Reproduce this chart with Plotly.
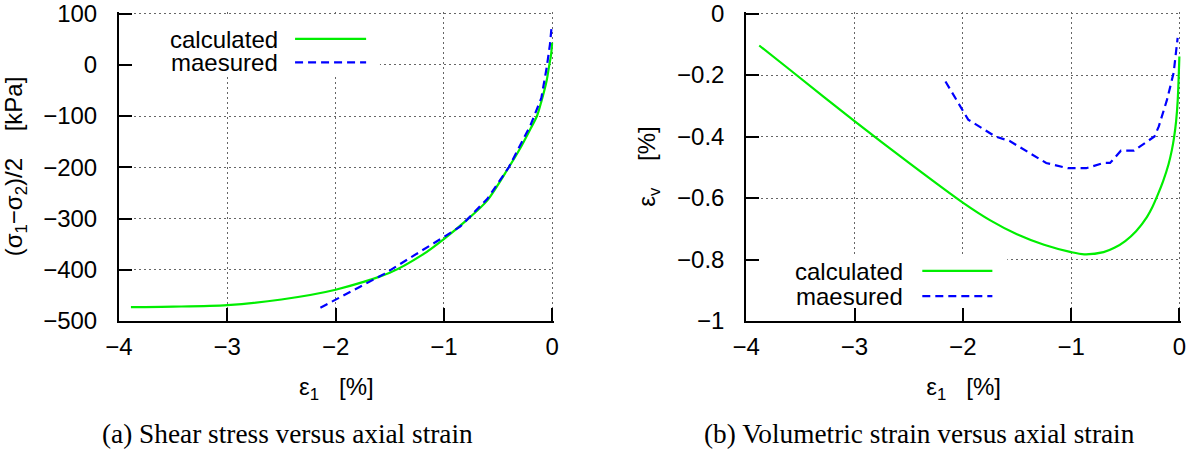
import plotly.graph_objects as go

W, H = 1195, 455

# ---------------- data ----------------
# (a) shear stress vs axial strain
calc_a_x = [-3.89, -3.5, -3.0, -2.5, -2.0, -1.5, -1.2, -1.0, -0.8, -0.6, -0.4, -0.3,
            -0.2, -0.14, -0.1, -0.05, -0.03, -0.01, 0.0]
calc_a_y = [-473, -472, -469, -458, -439, -406, -371, -340, -305, -265, -200, -165,
            -125, -100, -72, -30, -5, 20, 43]
meas_a_x = [-2.14, -1.55, -1.0, -0.85, -0.6, -0.4, -0.2, -0.1, -0.05, -0.02, -0.006]
meas_a_y = [-474, -408, -336, -316, -262, -200, -118, -65, -5, 40, 72]

# (b) volumetric strain vs axial strain
calc_b_x = [-3.88, -3.6, -3.0, -2.5, -2.0, -1.75, -1.5, -1.25, -1.0, -0.88, -0.7, -0.6,
            -0.5, -0.4, -0.3, -0.25, -0.2, -0.15, -0.1, -0.07, -0.05, -0.03, -0.015, 0.0]
calc_b_y = [-0.104, -0.182, -0.350, -0.485, -0.615, -0.672, -0.718, -0.752, -0.776,
            -0.783, -0.776, -0.762, -0.740, -0.708, -0.662, -0.630, -0.590, -0.545,
            -0.490, -0.445, -0.405, -0.350, -0.280, -0.140]
meas_b_x = [-2.16, -1.95, -1.70, -1.57, -1.23, -1.03, -0.86, -0.70, -0.64, -0.54,
            -0.42, -0.23, -0.19, -0.114, -0.053, -0.016]
meas_b_y = [-0.221, -0.345, -0.400, -0.414, -0.486, -0.503, -0.503, -0.486, -0.486,
            -0.446, -0.446, -0.400, -0.367, -0.280, -0.193, -0.079]

x_ticks = [-4, -3, -2, -1, 0]
ya_ticks = [100, 0, -100, -200, -300, -400, -500]
yb_ticks = [0, -0.2, -0.4, -0.6, -0.8, -1]
legend_names = ["calculated", "maesured"]
captions = ["(a) Shear stress versus axial strain",
            "(b) Volumetric strain versus axial strain"]

GREEN = "#00ee00"
BLUE = "#0000ff"
SANS = "Liberation Sans, Arial, sans-serif"
SERIF = "Liberation Serif, Times New Roman, serif"
FS = 24

# pixel frame of the plotting area (left panel left edge .. right panel right edge)
ML, MR, MT, MB = 119, 14.4, 12.46, 134
PW = W - ML - MR
PH = H - MT - MB


def dom_x(p):
    return (p - ML) / PW


fig = go.Figure()
fig.add_trace(go.Scatter(x=calc_a_x, y=calc_a_y, mode="lines", name=legend_names[0],
                         line=dict(color=GREEN, width=2.2, shape="spline", smoothing=0.8),
                         xaxis="x", yaxis="y", showlegend=False))
fig.add_trace(go.Scatter(x=meas_a_x, y=meas_a_y, mode="lines", name=legend_names[1],
                         line=dict(color=BLUE, width=2.2, dash="8px,5px"),
                         xaxis="x", yaxis="y", showlegend=False))
fig.add_trace(go.Scatter(x=calc_b_x, y=calc_b_y, mode="lines", name=legend_names[0],
                         line=dict(color=GREEN, width=2.2, shape="spline", smoothing=0.8),
                         xaxis="x2", yaxis="y2", showlegend=False))
fig.add_trace(go.Scatter(x=meas_b_x, y=meas_b_y, mode="lines", name=legend_names[1],
                         line=dict(color=BLUE, width=2.2, dash="8px,5px"),
                         xaxis="x2", yaxis="y2", showlegend=False))

tfont = dict(family=SANS, size=FS, color="black")
axis_common = dict(
    showline=True, linecolor="black", linewidth=2, mirror=False,
    ticks="inside", ticklen=13, tickwidth=2, tickcolor="black",
    showgrid=True, gridcolor="#666666", gridwidth=1, griddash="2px,3px",
    zeroline=False, tickfont=tfont, automargin=False, ticklabeloverflow="allow",
)

fig.update_layout(
    xaxis=dict(domain=[0, dom_x(553.6)], range=[-4, 0.015], tickvals=x_ticks,
               anchor="y", ticklabelstandoff=3,
               title=dict(text="ε<sub>1</sub>\u00a0\u00a0 [%]", standoff=19, font=tfont),
               **axis_common),
    yaxis=dict(domain=[0, 1], range=[-500, 103], tickvals=ya_ticks, anchor="x",
               ticklabelstandoff=15,
               title=dict(text="(σ<sub>1</sub>−σ<sub>2</sub>)/2\u00a0\u00a0\u00a0 [kPa]",
                          standoff=17, font=tfont),
               **axis_common),
    xaxis2=dict(domain=[dom_x(746), 1], range=[-4, 0.015], tickvals=x_ticks,
                anchor="y2", ticklabelstandoff=3,
                title=dict(text="ε<sub>1</sub>\u00a0\u00a0 [%]", standoff=19, font=tfont),
                **axis_common),
    yaxis2=dict(domain=[0, 1], range=[-1, 0.005], tickvals=yb_ticks, anchor="x2",
                ticklabelstandoff=15,
                title=dict(text="ε<sub>v</sub>\u00a0\u00a0\u00a0 [%]", standoff=15,
                           font=tfont),
                **axis_common),
)

# white boxes behind the key (hide grid like gnuplot's key box)
fig.add_shape(type="rect", xref="x", yref="y", x0=-4, x1=-1.59, y0=-21, y1=94,
              fillcolor="white", line=dict(width=0), layer="between")
fig.add_shape(type="rect", xref="x2", yref="y2", x0=-4, x1=-1.59, y0=-0.993, y1=-0.788,
              fillcolor="white", line=dict(width=0), layer="between")

# key entries: text on the left, line sample on the right (gnuplot style)
keys = [
    dict(xr="x", yr="y", tx=-2.513, ys=[50.6, 4.8], lx=[-2.374, -1.718]),
    dict(xr="x2", yr="y2", tx=-2.531, ys=[-0.837, -0.919], lx=[-2.374, -1.727]),
]
for k in keys:
    for i, name in enumerate(legend_names):
        fig.add_annotation(x=k["tx"], y=k["ys"][i], xref=k["xr"], yref=k["yr"],
                           text=name, showarrow=False, xanchor="right", yanchor="middle",
                           height=22, valign="middle", font=tfont)
        fig.add_shape(type="line", xref=k["xr"], yref=k["yr"],
                      x0=k["lx"][0], x1=k["lx"][1], y0=k["ys"][i], y1=k["ys"][i],
                      line=dict(color=GREEN if i == 0 else BLUE, width=2.2,
                                dash="solid" if i == 0 else "8px,5px"))

# captions (positions in paper coordinates of the plotting frame)
for cx, cap in zip([287, 919], captions):
    fig.add_annotation(x=dom_x(cx), y=(H - MB - 434) / PH, xref="paper", yref="paper",
                       text=cap, showarrow=False, xanchor="center", yanchor="middle",
                       font=dict(family=SERIF, size=27.3, color="black"))

fig.update_layout(width=W, height=H, margin=dict(l=ML, r=MR, t=MT, b=MB, pad=0),
                  paper_bgcolor="white", plot_bgcolor="white", showlegend=False)

fig.write_html("out.html", config={"displayModeBar": False},
               post_script="document.body.style.margin='0';")
